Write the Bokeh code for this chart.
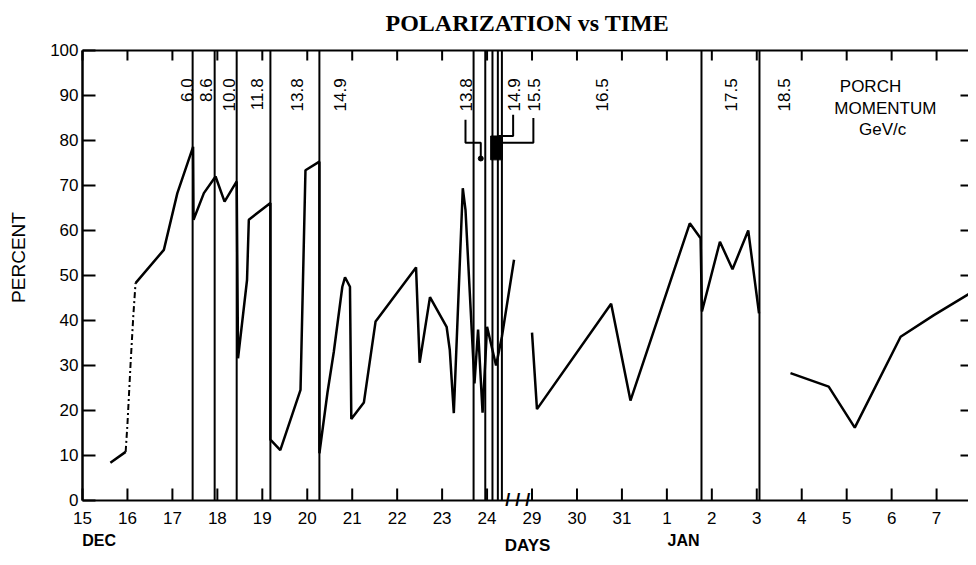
import math
from bokeh.plotting import figure
from bokeh.models import LinearAxis, FixedTicker, Range1d, ColumnDataSource
from bokeh.embed import file_html
from bokeh.resources import INLINE
from bokeh.core.properties import value

# compressed day axis: 0 = 15 Dec ... 9 = 24 Dec, 10 = 29 Dec ... 12 = 31 Dec, 13 = 1 Jan ... 19 = 7 Jan
day_ticks = list(range(20))
day_labels = ["15", "16", "17", "18", "19", "20", "21", "22", "23", "24",
              "29", "30", "31", "1", "2", "3", "4", "5", "6", "7"]
month_labels = ["DEC", "JAN"]
month_x = [0.37, 13.37]
pct_ticks = [0, 10, 20, 30, 40, 50, 60, 70, 80, 90, 100]
pct_labels = ["0", "10", "20", "30", "40", "50", "60", "70", "80", "90", "100"]
right_ticks = [10, 20, 30, 40, 50, 60, 70, 80, 90]

# polarization (percent) vs day index; NaN separates the measured runs
nan = float("nan")
pol_x = [0.62, 0.96,
         nan,
         1.18, 1.81, 2.11, 2.46, 2.47, 2.70, 2.96, 3.16, 3.43, 3.46, 3.66, 3.70, 4.18,
         4.18, 4.40, 4.85, 4.96, 5.27, 5.27, 5.45, 5.59, 5.78, 5.84, 5.95, 5.98, 6.26,
         6.52, 7.42, 7.50, 7.73, 8.10, 8.17, 8.26, 8.46, 8.52, 8.72, 8.80, 8.90, 9.00,
         9.20, 9.33, 9.60,
         nan,
         10.00, 10.11, 11.76, 12.19, 13.51, 13.75, 13.78, 14.18, 14.46, 14.81, 15.05,
         nan,
         15.75, 16.60, 17.18, 18.20, 18.94, 19.75]
pol_y = [8.4, 10.8,
         nan,
         48.3, 55.7, 68.3, 78.6, 62.4, 68.3, 72.0, 66.4, 70.9, 31.6, 49.0, 62.4, 66.1,
         13.5, 11.2, 24.6, 73.4, 75.3, 10.5, 24.0, 33.0, 47.5, 49.6, 47.5, 18.1, 21.8,
         39.8, 51.8, 30.6, 45.2, 38.6, 33.5, 19.4, 69.4, 64.6, 26.0, 38.0, 19.5, 38.6,
         30.0, 36.4, 53.5,
         nan,
         37.3, 20.3, 43.7, 22.2, 61.6, 58.3, 42.0, 57.5, 51.4, 60.0, 41.6,
         nan,
         28.3, 25.3, 16.2, 36.4, 41.2, 46.1]

# poorly determined part (dash-dot)
dash_x = [0.96, 1.00, 1.07, 1.13, 1.18]
dash_y = [10.8, 17.0, 30.5, 41.0, 48.3]

# momentum change boundaries (day index) and momentum labels (GeV/c)
boundaries = [2.45, 2.94, 3.43, 4.18, 5.27, 8.70, 8.96, 9.12, 9.24, 9.33, 13.77, 15.06]
mom_labels = ["6.0", "8.6", "10.0", "11.8", "13.8", "14.9", "13.8", "14.9", "15.5", "16.5", "17.5", "18.5"]
mom_label_x = [2.32, 2.74, 3.27, 3.89, 4.78, 5.72, 8.54, 9.61, 10.04, 11.56, 14.42, 15.60]
mom_label_top = 93.8

# leader brackets for the short runs near 24 Dec
bracket_xs = [[8.52, 8.52, 8.86, 8.86], [9.58, 9.58, 9.25], [10.03, 10.03, 9.34]]
bracket_ys = [[84.6, 79.5, 79.5, 76.0], [85.7, 81.0, 81.0], [85.0, 79.5, 79.5]]
box_left, box_right, box_bottom, box_top = [9.08], [9.34], [75.7], [81.0]
dot_x, dot_y = [8.86], [76.0]

legend_lines = ["PORCH", "MOMENTUM", "GeV/c"]
legend_x = [17.53, 17.86, 17.80]
legend_y = [91.9, 87.1, 82.4]

FONT = "Liberation Sans"
PX_X = 44.95   # pixels per day
PX_Y = 4.5     # pixels per percent
X_MIN, X_MAX = -82 / PX_X, 19.71
Y_MIN, Y_MAX = -12.67, 100 + 10 / PX_Y

p = figure(width=968, height=557, x_range=Range1d(X_MIN, X_MAX), y_range=Range1d(Y_MIN, Y_MAX),
           output_backend="svg", toolbar_location=None, x_axis_location=None, y_axis_location=None,
           min_border_left=0, min_border_right=0, min_border_top=40, min_border_bottom=0,
           background_fill_color="white", border_fill_color="white")
p.grid.visible = False
p.outline_line_color = None

p.title.text = "POLARIZATION vs TIME"
p.title.align = "left"
p.title.offset = 385
p.title.text_font = "Liberation Serif"
p.title.text_font_size = "24px"
p.title.text_font_style = "bold"
p.title.text_color = "black"
p.title.standoff = 9

right = LinearAxis(ticker=FixedTicker(ticks=right_ticks), major_tick_in=8, major_tick_out=0,
                   minor_tick_line_color=None, axis_line_color=None, major_tick_line_width=2,
                   major_label_overrides={t: "" for t in right_ticks}, major_label_standoff=0)
p.add_layout(right, "right")

# frame lines: left axis, top axis, bottom axis
p.segment(x0=[0], y0=[pct_ticks[0]], x1=[0], y1=[pct_ticks[-1]], line_color="black", line_width=2.5)
p.segment(x0=[0], y0=[pct_ticks[-1]], x1=[X_MAX], y1=[pct_ticks[-1]], line_color="black", line_width=2)
p.segment(x0=[0], y0=[0], x1=[X_MAX], y1=[0], line_color="black", line_width=2)

# left ticks and labels
n = len(pct_ticks)
p.segment(x0=[0] * n, y0=pct_ticks, x1=[13 / PX_X] * n, y1=pct_ticks, line_color="black", line_width=2)
p.text(x=[-4 / PX_X] * n, y=pct_ticks, text=pct_labels, text_align="right", text_baseline="middle",
       text_font=value(FONT), text_font_size="17px", text_color="black")
p.text(x=[-64 / PX_X], y=[54], text=["PERCENT"], angle=math.pi / 2, text_align="center",
       text_baseline="middle", text_font=value(FONT), text_font_size="19px", text_color="black")

# top and bottom day ticks, bottom labels
m = len(day_ticks)
p.segment(x0=day_ticks, y0=[100] * m, x1=day_ticks, y1=[100 - 10 / PX_Y] * m, line_color="black", line_width=2)
p.segment(x0=day_ticks, y0=[0] * m, x1=day_ticks, y1=[12 / PX_Y] * m, line_color="black", line_width=2)
p.text(x=day_ticks, y=[-4.0] * m, text=day_labels, text_align="center",
       text_baseline="middle", text_font=value(FONT), text_font_size="17px", text_color="black")
p.text(x=month_x, y=[-8.8] * 2, text=month_labels, text_align="center", text_baseline="middle",
       text_font=value(FONT), text_font_size="16px", text_font_style="bold", text_color="black")
p.text(x=[9.90], y=[-10.0], text=["DAYS"], text_align="center", text_baseline="middle",
       text_font=value(FONT), text_font_size="17px", text_font_style="bold", text_color="black")
p.text(x=[9.68], y=[0.2], text=["/ / /"], text_align="center", text_baseline="middle",
       text_font=value(FONT), text_font_size="18px", text_font_style="bold", text_color="black")

# momentum boundaries
p.segment(x0=boundaries, y0=[0] * len(boundaries), x1=boundaries, y1=[100] * len(boundaries),
          line_color="black", line_width=2)

p.line(pol_x, pol_y, line_color="black", line_width=2.5)
p.line(dash_x, dash_y, line_color="black", line_width=2, line_dash="6 3 2 3")

p.multi_line(bracket_xs, bracket_ys, line_color="black", line_width=2)
p.quad(left=box_left, right=box_right, bottom=box_bottom, top=box_top, fill_color="black", line_color="black")
p.scatter(dot_x, dot_y, size=5, color="black")

src = ColumnDataSource(dict(x=mom_label_x, y=[mom_label_top] * len(mom_label_x), t=mom_labels))
p.text(x="x", y="y", text="t", source=src, angle=math.pi / 2, text_align="right",
       text_baseline="middle", text_font=value(FONT), text_font_size="17px", text_color="black")

p.text(x=legend_x, y=legend_y, text=legend_lines, text_align="center", text_baseline="middle",
       text_font=value(FONT), text_font_size="17px", text_color="black")

open("out.html", "w").write(file_html(p, INLINE))
